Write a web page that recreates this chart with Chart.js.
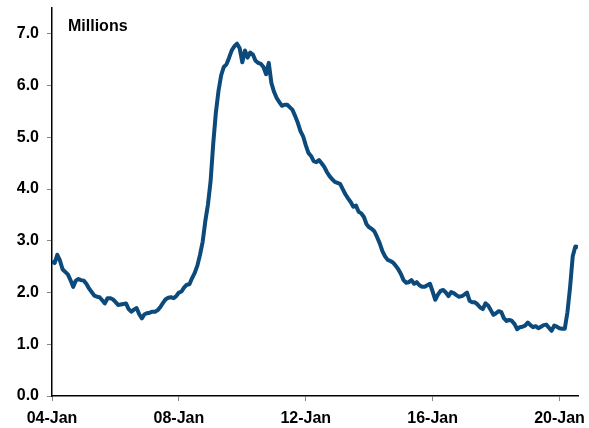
<!DOCTYPE html>
<html>
<head>
<meta charset="utf-8">
<script src="https://cdn.jsdelivr.net/npm/chart.js@4"></script>
<style>
  html, body { margin: 0; padding: 0; background: #fff; }
  #wrap { width: 589px; height: 428px; position: relative; }
</style>
</head>
<body>
<div id="wrap"><canvas id="chart"></canvas></div>
<script>
// Monthly series, in millions, starting January 2004
const values = [
  2.60, 2.57, 2.73, 2.62, 2.45, 2.40, 2.35, 2.24, 2.11, 2.23,
  2.26, 2.24, 2.23, 2.17, 2.08, 2.01, 1.94, 1.92, 1.91, 1.85,
  1.79, 1.89, 1.89, 1.87, 1.82, 1.76, 1.77, 1.78, 1.79, 1.68,
  1.63, 1.67, 1.70, 1.58, 1.50, 1.58, 1.60, 1.61, 1.63, 1.63,
  1.66, 1.72, 1.80, 1.87, 1.90, 1.91, 1.89, 1.93, 2.00, 2.02,
  2.10, 2.15, 2.16, 2.28, 2.38, 2.52, 2.73, 2.98, 3.38, 3.70,
  4.15, 4.88, 5.48, 5.90, 6.20, 6.36, 6.41, 6.54, 6.68, 6.76,
  6.81, 6.72, 6.45, 6.68, 6.54, 6.64, 6.60, 6.48, 6.44, 6.42,
  6.36, 6.22, 6.44, 6.05, 5.88, 5.76, 5.68, 5.61, 5.63, 5.63,
  5.58, 5.53, 5.41, 5.28, 5.12, 5.02, 4.85, 4.70, 4.64, 4.54,
  4.52, 4.56, 4.50, 4.43, 4.33, 4.25, 4.19, 4.14, 4.12, 4.10,
  4.00, 3.90, 3.82, 3.75, 3.66, 3.68, 3.56, 3.53, 3.46, 3.32,
  3.26, 3.23, 3.18, 3.07, 2.95, 2.80, 2.70, 2.63, 2.61, 2.58,
  2.52, 2.45, 2.36, 2.24, 2.19, 2.20, 2.24, 2.17, 2.20, 2.14,
  2.11, 2.11, 2.14, 2.17, 2.02, 1.86, 1.96, 2.03, 2.05, 2.00,
  1.93, 2.01, 1.99, 1.95, 1.92, 1.93, 1.96, 2.00, 1.84, 1.81,
  1.81, 1.77, 1.71, 1.68, 1.79, 1.75, 1.66, 1.57, 1.60, 1.64,
  1.62, 1.50, 1.45, 1.47, 1.45, 1.39, 1.29, 1.33, 1.34, 1.36,
  1.42, 1.37, 1.33, 1.35, 1.31, 1.34, 1.37, 1.38, 1.32, 1.26,
  1.36, 1.34, 1.31, 1.30, 1.30, 1.62, 2.10, 2.70, 2.89, 2.88
];

// Month offsets for the x-axis labels, and their text
const xTickMonths = [0, 48, 96, 144, 192];
const xTickLabels = ['04-Jan', '08-Jan', '12-Jan', '16-Jan', '20-Jan'];

const yTicks = [0, 1, 2, 3, 4, 5, 6, 7];
const unitLabel = 'Millions';

const monthIndex = values.map((_, i) => i);

const lineColor = '#0c4a7c';
const tickFont = { family: '"Liberation Sans", Arial, sans-serif', size: 16, weight: 'bold' };

// Keep the plot box fixed: labels may overhang without shrinking it
function clearOverhang(scale) {
  scale.paddingTop = 0;
  scale.paddingBottom = 0;
  scale.paddingLeft = 0;
  scale.paddingRight = 0;
}

// Unit caption in the top-left corner of the plot
const unitCaption = {
  id: 'unitCaption',
  afterDraw(chart) {
    const { ctx, chartArea } = chart;
    ctx.save();
    ctx.font = 'bold 16px "Liberation Sans", Arial, sans-serif';
    ctx.fillStyle = '#000';
    ctx.textBaseline = 'alphabetic';
    ctx.fillText(unitLabel, chartArea.left + 16, chartArea.top + 23);
    ctx.restore();
  }
};

new Chart(document.getElementById('chart'), {
  type: 'line',
  data: {
    labels: monthIndex,
    datasets: [{
      data: values,
      borderColor: lineColor,
      borderWidth: 4,
      pointRadius: 0,
      tension: 0,
      borderJoinStyle: 'round',
      borderCapStyle: 'butt',
      fill: false
    }]
  },
  options: {
    responsive: true,
    maintainAspectRatio: false,
    animation: false,
    events: [],
    layout: { padding: { top: 8, right: 11, left: 0, bottom: 0 } },
    plugins: { legend: { display: false }, tooltip: { enabled: false } },
    scales: {
      x: {
        type: 'linear',
        min: 0,
        max: 199,
        afterBuildTicks(scale) {
          scale.ticks = xTickMonths.map(v => ({ value: v }));
        },
        afterFit(scale) { scale.height = 32; clearOverhang(scale); },
        ticks: {
          color: '#000',
          font: tickFont,
          maxRotation: 0,
          autoSkip: false,
          padding: 8,
          callback(value) {
            const k = xTickMonths.indexOf(value);
            return k >= 0 ? xTickLabels[k] : '';
          }
        },
        grid: {
          drawOnChartArea: false,
          tickLength: 5,
          tickColor: '#888',
          tickWidth: 1
        },
        border: { color: '#000', width: 1.5 }
      },
      y: {
        min: 0,
        max: 7.5,
        afterBuildTicks(scale) {
          scale.ticks = yTicks.map(v => ({ value: v }));
        },
        afterFit(scale) { scale.width = 52; clearOverhang(scale); },
        ticks: {
          color: '#000',
          font: tickFont,
          padding: 8,
          callback(value) { return value.toFixed(1); }
        },
        grid: {
          drawOnChartArea: false,
          tickLength: 5,
          tickColor: '#888',
          tickWidth: 1
        },
        border: { color: '#000', width: 1.5 }
      }
    }
  },
  plugins: [unitCaption]
});
</script>
</body>
</html>
